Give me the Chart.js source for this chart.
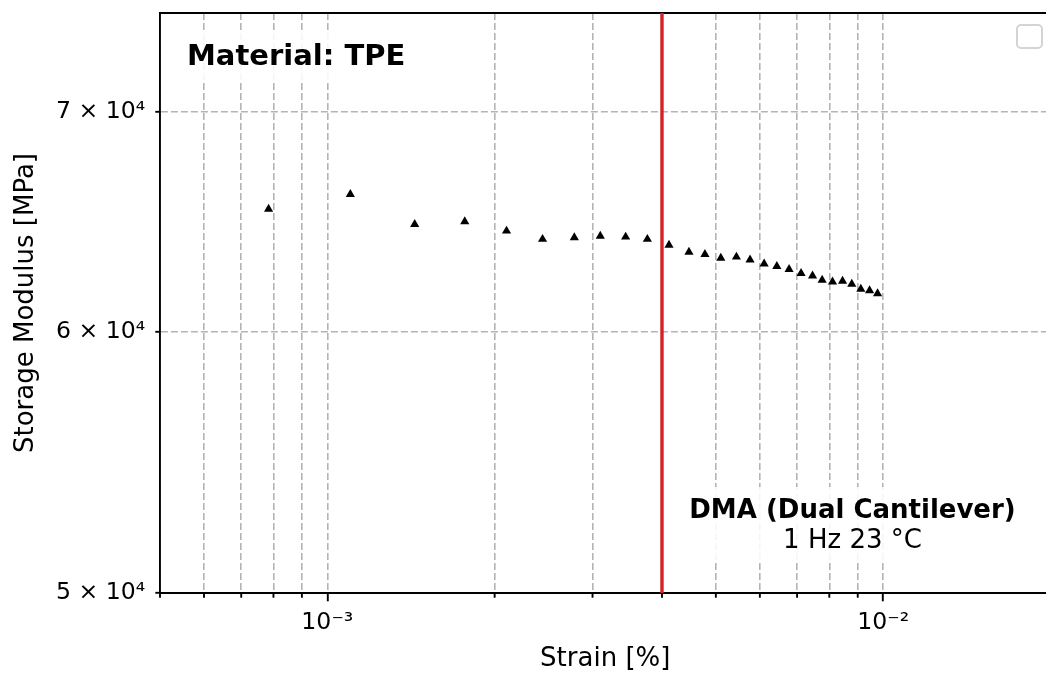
<!DOCTYPE html>
<html>
<head>
<meta charset="utf-8">
<script src="https://cdn.jsdelivr.net/npm/chart.js@4/dist/chart.umd.min.js"></script>
<style>
  html, body { margin: 0; padding: 0; background: #fff; overflow: hidden; }
  #wrap { position: absolute; left: 0; top: 0; width: 1060px; height: 675px; }
</style>
</head>
<body>
<div id="wrap"><canvas id="c"></canvas></div>
<script>
// Strain sweep (1 Hz, 23 °C): strain [%] and storage modulus [MPa]
const strain = [7.84e-4, 1.100e-3, 1.436e-3, 1.767e-3, 2.101e-3, 2.439e-3, 2.782e-3,
                3.098e-3, 3.441e-3, 3.765e-3, 4.118e-3, 4.473e-3, 4.779e-3, 5.104e-3,
                5.445e-3, 5.761e-3, 6.107e-3, 6.437e-3, 6.772e-3, 7.117e-3, 7.463e-3,
                7.766e-3, 8.107e-3, 8.451e-3, 8.781e-3, 9.116e-3, 9.452e-3, 9.770e-3];
const modulus = [65390, 66070, 64700, 64820, 64400, 64030, 64100,
                 64170, 64130, 64030, 63770, 63460, 63360, 63190,
                 63240, 63110, 62940, 62830, 62700, 62520, 62410,
                 62230, 62150, 62180, 62050, 61840, 61770, 61640];

// Limit of the linear viscoelastic region
const limitStrain = 4e-3;

// Axis ranges and ticks
const xRange = [5e-4, 2e-2];
const yRange = [5e4, 7.5e4];
const xMajorTicks = [1e-3, 1e-2];
const xMajorLabels = ['10\u207B\u00B3', '10\u207B\u00B2'];
const xMinorTicks = [5e-4, 6e-4, 7e-4, 8e-4, 9e-4,
                     2e-3, 3e-3, 4e-3, 5e-3, 6e-3, 7e-3, 8e-3, 9e-3, 2e-2];
const yTicks = [5e4, 6e4, 7e4];
const yTickLabels = ['5 \u00D7 10\u2074', '6 \u00D7 10\u2074', '7 \u00D7 10\u2074'];

// Text
const xTitle = 'Strain [%]';
const yTitle = 'Storage Modulus [MPa]';
const materialLabel = 'Material: TPE';
const methodLabel = 'DMA (Dual Cantilever)';
const conditionLabel = '1 Hz 23 \u00B0C';

const FONT = "'DejaVu Sans', 'Noto Sans', sans-serif";
const GRID = '#b4b4b4';
const DASH = [7, 3];

// Minor tick marks on the strain axis (shorter than the decade ticks)
const minorTickPlugin = {
  id: 'minorTicks',
  afterDraw(chart) {
    const sx = chart.scales.x;
    const ca = chart.chartArea;
    const ctx = chart.ctx;
    ctx.save();
    ctx.strokeStyle = '#000';
    ctx.lineWidth = 1.9;
    xMinorTicks.forEach(v => {
      const px = sx.getPixelForValue(v);
      if (px < ca.left - 1 || px > ca.right + 1) return;
      ctx.beginPath();
      ctx.moveTo(px, ca.bottom);
      ctx.lineTo(px, ca.bottom + 4.7);
      ctx.stroke();
    });
    ctx.restore();
  }
};

// Text boxes inside the axes
const annotationPlugin = {
  id: 'annotations',
  beforeDatasetsDraw(chart) {
    const ca = chart.chartArea;
    const ctx = chart.ctx;
    ctx.save();
    ctx.textBaseline = 'alphabetic';

    // material label, top-left
    ctx.font = `bold 29px ${FONT}`;
    const mw = ctx.measureText(materialLabel).width;
    const mx = ca.left + 27;
    ctx.fillStyle = 'rgba(255,255,255,0.88)';
    ctx.fillRect(mx - 8, ca.top + 20, mw + 16, 47);
    ctx.fillStyle = '#000';
    ctx.textAlign = 'left';
    ctx.fillText(materialLabel, mx, ca.top + 52);

    // test method and conditions, bottom-right
    const cx = ca.right - 198;
    ctx.fillStyle = 'rgba(255,255,255,0.88)';
    ctx.fillRect(cx - 172, ca.bottom - 106, 344, 76);
    ctx.fillStyle = '#000';
    ctx.textAlign = 'center';
    ctx.font = `bold 26px ${FONT}`;
    ctx.fillText(methodLabel, cx, ca.bottom - 75);
    ctx.font = `26px ${FONT}`;
    ctx.fillText(conditionLabel, cx, ca.bottom - 45);
    ctx.restore();
  },
  afterDraw(chart) {
    // empty legend frame in the upper-right corner
    const ca = chart.chartArea;
    const ctx = chart.ctx;
    ctx.save();
    ctx.beginPath();
    ctx.roundRect(ca.right - 33.5, ca.top + 12, 25, 23, 4);
    ctx.fillStyle = 'rgba(255,255,255,0.8)';
    ctx.fill();
    ctx.strokeStyle = '#d4d4d4';
    ctx.lineWidth = 2;
    ctx.stroke();
    ctx.restore();
  }
};

const noPad = s => { s.paddingTop = 0; s.paddingBottom = 0; s.paddingLeft = 0; s.paddingRight = 0; };

const points = strain.map((x, i) => ({ x: x, y: modulus[i] }));

new Chart(document.getElementById('c'), {
  type: 'scatter',
  data: {
    datasets: [
      {
        label: 'Storage modulus',
        data: points,
        pointStyle: 'triangle',
        pointRadius: 5.3,
        pointHoverRadius: 5.3,
        backgroundColor: '#000',
        borderColor: '#000',
        borderWidth: 0,
        showLine: false,
        order: 0
      },
      {
        label: 'LVE limit',
        type: 'line',
        data: [{ x: limitStrain, y: yRange[0] }, { x: limitStrain, y: yRange[1] }],
        borderColor: '#d42222',
        borderWidth: 3.4,
        pointRadius: 0,
        fill: false,
        order: 1
      }
    ]
  },
  options: {
    responsive: true,
    maintainAspectRatio: false,
    animation: false,
    events: [],
    layout: { padding: { top: 13, right: 9.5, bottom: 0, left: 0 } },
    plugins: { legend: { display: false }, tooltip: { enabled: false } },
    scales: {
      x: {
        type: 'logarithmic',
        position: 'bottom',
        min: xRange[0],
        max: xRange[1],
        afterBuildTicks: s => {
          const all = xMinorTicks.map(v => ({ value: v, major: false }))
            .concat(xMajorTicks.map(v => ({ value: v, major: true })));
          all.sort((a, b) => a.value - b.value);
          s.ticks = all;
        },
        afterFit: s => { s.height = 82; noPad(s); },
        ticks: {
          autoSkip: false,
          maxRotation: 0,
          padding: 7.5,
          color: '#000',
          font: { family: FONT, size: 23.6 },
          callback: v => {
            const i = xMajorTicks.indexOf(v);
            return i >= 0 ? xMajorLabels[i] : '';
          }
        },
        grid: {
          color: GRID,
          lineWidth: 1.6,
          tickLength: 8.3,
          tickWidth: 1.9,
          tickColor: c => (c.tick && c.tick.major) ? '#000' : 'rgba(0,0,0,0)'
        },
        border: { display: true, color: '#000', width: 1.9, dash: DASH },
        title: {
          display: true,
          text: xTitle,
          color: '#000',
          font: { family: FONT, size: 26 },
          padding: { top: 0, bottom: 0 }
        }
      },
      xTop: {
        type: 'linear',
        position: 'top',
        min: 0,
        max: 1,
        afterFit: s => { s.height = 0; noPad(s); },
        ticks: { display: false },
        grid: { display: false, drawTicks: false },
        border: { display: true, color: '#000', width: 1.9 }
      },
      y: {
        type: 'logarithmic',
        position: 'left',
        min: yRange[0],
        max: yRange[1],
        afterBuildTicks: s => { s.ticks = yTicks.map(v => ({ value: v })); },
        afterFit: s => { s.width = 160; noPad(s); },
        ticks: {
          autoSkip: false,
          padding: 10,
          color: '#000',
          font: { family: FONT, size: 23.6 },
          callback: v => {
            const i = yTicks.indexOf(v);
            return i >= 0 ? yTickLabels[i] : '';
          }
        },
        grid: {
          color: GRID,
          lineWidth: 1.6,
          tickLength: 4.7,
          tickWidth: 1.9,
          tickColor: '#000'
        },
        border: { display: true, color: '#000', width: 1.9, dash: DASH },
        title: {
          display: true,
          text: yTitle,
          color: '#000',
          font: { family: FONT, size: 26 },
          padding: { top: 11, bottom: 0 }
        }
      }
    }
  },
  plugins: [minorTickPlugin, annotationPlugin]
});
</script>
</body>
</html>
